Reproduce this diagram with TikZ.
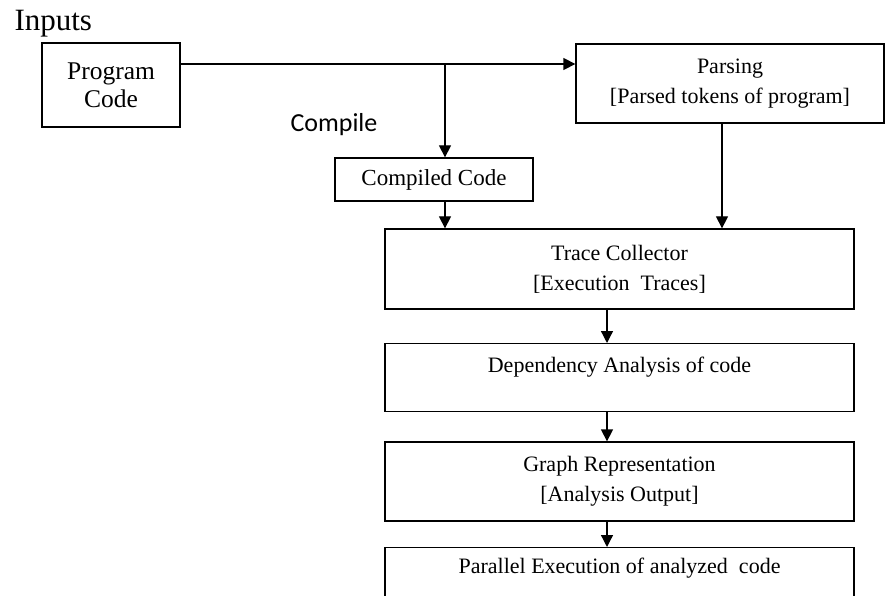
\documentclass[tikz,border=0pt]{standalone}
\usepackage{fontspec}
\setmainfont{Liberation Serif}
\newfontfamily\calfont{Carlito}
\usetikzlibrary{arrows.meta}
\begin{document}
\begin{tikzpicture}[x=1pt,y=-1pt,
  box/.style={draw, line width=1.3pt, rectangle, inner sep=0pt, align=center,
    font=\fontsize{22}{30}\selectfont},
  arr/.style={line width=1.3pt, -{Triangle[length=12pt,width=12pt]}},
  ln/.style={line width=1.3pt}]
\clip (0,0) rectangle (886,596);
\fill[white] (0,0) rectangle (886,596);

\node[anchor=base west, font=\fontsize{31}{34}\selectfont] (inp) at (11,31) {Inputs};
\node[anchor=base west, font=\calfont\fontsize{26}{30}\selectfont] (cmp) at (287,132) {Compile};

\node[box, minimum width=138pt, minimum height=84pt, font=\fontsize{25.5}{28}\selectfont] (pc) at (111,85) {Program\\Code};
\node[box, minimum width=308pt, minimum height=79pt] (parse) at (730,83.5) {Parsing\\{[}Parsed tokens of program{]}};
\node[box, minimum width=198pt, minimum height=43pt, font=\fontsize{23}{30}\selectfont] (cc) at (434,179.5) {Compiled Code};
\node[box, minimum width=469pt, minimum height=80pt] (tc) at (619.5,269) {Trace Collector\\{[}Execution\ \ Traces{]}};
\node[box, minimum width=469pt, anchor=north, text height=29pt, text depth=39pt] (dep) at (619.5,343) {Dependency Analysis of code};
\node[box, minimum width=469pt, minimum height=79pt] (gr) at (619.5,481.5) {Graph Representation\\{[}Analysis Output{]}};
\node[box, minimum width=469pt, anchor=north, text height=26pt, text depth=77pt] (par) at (619.5,547) {Parallel Execution\ of analyzed\ \ code};

\coordinate (j) at (445,64);
\coordinate (px) at (722,0);
\coordinate (ax) at (607,0);

\draw[arr] (pc.east |- j) -- (parse.west |- j);
\draw[arr] (j) -- (cc.north -| j);
\draw[arr] (cc.south -| j) -- (tc.north -| j);
\draw[arr] (parse.south -| px) -- (tc.north -| px);
\draw[arr] (tc.south -| ax) -- (dep.north -| ax);
\draw[arr] (dep.south -| ax) -- (gr.north -| ax);
\draw[arr] (gr.south -| ax) -- (par.north -| ax);
\end{tikzpicture}
\end{document}
